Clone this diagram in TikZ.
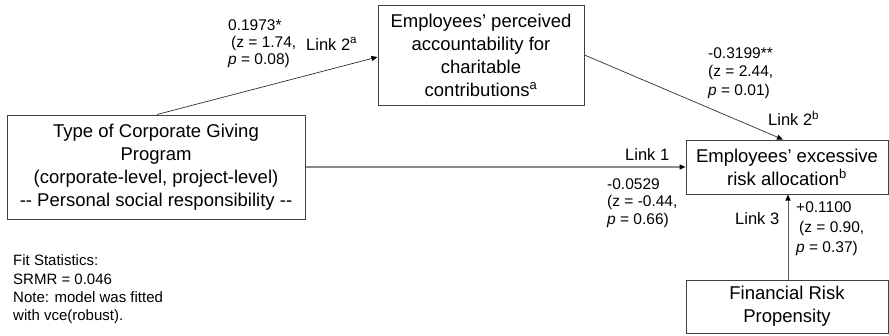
\documentclass[tikz,border=0pt]{standalone}
\usepackage{fontspec}
\setmainfont{Liberation Sans}
\usetikzlibrary{arrows.meta}
\definecolor{boxline}{HTML}{404040}
\definecolor{arrline}{HTML}{303030}
\definecolor{lightline}{HTML}{8A8A8A}
\definecolor{midline}{HTML}{5A5A5A}
\tikzset{
  varbox/.style={draw=boxline, line width=1pt, inner sep=0pt, align=center,
    font=\fontsize{18.5}{23}\selectfont},
  lbl/.style={inner sep=0pt, anchor=west, align=left,
    font=\fontsize{15.5}{17.5}\selectfont},
  linklbl/.style={inner sep=0pt, anchor=west, font=\fontsize{16.5}{19}\selectfont},
  arr/.style={draw=arrline, line width=0.7pt, -{Triangle[length=6pt,width=5pt,color=black]}},
}
\begin{document}
\begin{tikzpicture}[x=1pt,y=-1pt]
\useasboundingbox (0,0) rectangle (889,335);
% boxes
\node[varbox, minimum width=206pt, minimum height=100pt] (acc) at (481,55)
  {Employees’ perceived\\accountability for\\charitable\\contributions\textsuperscript{a}};
\node[varbox, minimum width=298pt, minimum height=104pt] (prog) at (156,167)
  {Type of Corporate Giving\\Program\\(corporate-level, project-level)\\-{}- Personal social responsibility -{}-};
\node[varbox, minimum width=202pt, minimum height=54pt] (risk) at (787,167)
  {Employees’ excessive\\risk allocation\textsuperscript{b}};
\node[varbox, minimum width=202pt, minimum height=53pt] (fin) at (787,306.5)
  {Financial Risk\\Propensity};
% connectors
\draw[arr] ([xshift=1pt]prog.north) -- ([yshift=-2pt]acc.west);
\draw[arr] (acc.east) -- ([xshift=-4pt]risk.north);
\draw[arr, draw=lightline, line width=1.4pt] (prog.east) -- (risk.west);
\draw[arr, draw=midline, line width=0.9pt] ([xshift=1pt]fin.north) -- ([xshift=1pt]risk.south);
% labels
\node[lbl, font=\fontsize{15.5}{17}\selectfont] (la) at (228,44)
  {0.1973*\\\hspace{3pt}(z = 1.74,\\\textit{p} = 0.08)};
\node[linklbl] (l2a) at (306,44) {Link 2\textsuperscript{a}};
\node[lbl, font=\fontsize{15.5}{18.5}\selectfont] (lb) at (708,73)
  {-0.3199**\\(z = 2.44,\\\textit{p} = 0.01)};
\node[linklbl] (l2b) at (768,118) {Link 2\textsuperscript{b}};
\node[linklbl] (l1) at (625,155) {Link 1};
\node[lbl] (lc) at (607,203)
  {-0.0529\\(z = -0.44,\\\textit{p} = 0.66)};
\node[linklbl] (l3) at (735,219) {Link 3};
\node[lbl, font=\fontsize{15.5}{20}\selectfont] (ld) at (796,229)
  {+0.1100\\\hspace{3pt}(z = 0.90,\\\textit{p} = 0.37)};
\node[lbl, font=\fontsize{15}{18.3}\selectfont] (fit) at (13,289.5)
  {Fit Statistics:\\SRMR = 0.046\\Note: model was fitted\\with vce(robust).};
\end{tikzpicture}
\end{document}
